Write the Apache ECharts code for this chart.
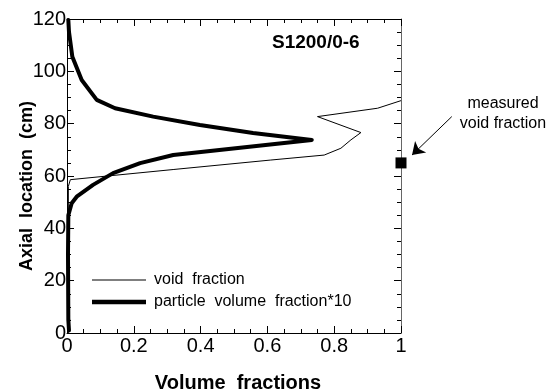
<!DOCTYPE html>
<html>
<head>
<meta charset="utf-8">
<script src="https://cdn.jsdelivr.net/npm/echarts@6/dist/echarts.min.js"></script>
<style>
  html, body { margin: 0; padding: 0; background: #fff; }
  #chart { width: 555px; height: 391px; }
</style>
</head>
<body>
<div id="chart"></div>
<script>
// Axial profile of void fraction and particle volume fraction (x10), run S1200/0-6
const voidFractionX = [0.004, 0.004, 0.010, 0.32, 0.61, 0.77, 0.82, 0.85, 0.88, 0.75, 0.93, 1.0];
const voidFractionY = [0, 56, 58.6, 62.5, 66.1, 68.0, 70.6, 73.8, 76.6, 82.7, 85.9, 88.8];

const particleX = [0.004, 0.006, 0.016, 0.044, 0.089, 0.144, 0.258, 0.398, 0.557, 0.733,
                   0.318, 0.219, 0.138, 0.078, 0.029, 0.014, 0.004, 0.003, 0.004, 0.006];
const particleY = [119.6, 115, 105.6, 96.7, 89.1, 85.9, 82.7, 79.5, 76.4, 73.8,
                   68.0, 64.9, 61.1, 56.6, 52.1, 49.6, 45, 30, 5, 1];

const measuredVoid = [[1.0, 65]];
// arrow from the note to the measured point, in data units
const arrowFrom = [1.152, 82.7];
const arrowTo = [1.033, 68.0];

const xTicks = { min: 0, max: 1, interval: 0.2 };
const yTicks = { min: 0, max: 120, interval: 20 };

const seriesLabels = ['void  fraction', 'particle  volume  fraction*10'];

const zip = (xs, ys) => xs.map((x, i) => [x, ys[i]]);

const chart = echarts.init(document.getElementById('chart'), null, { renderer: 'canvas' });

const tickFont = { fontFamily: 'Liberation Sans, Arial, sans-serif', fontSize: 20, color: '#000' };

function axisCommon(showLabel, lineColor) {
  return {
    type: 'value',
    axisLine: { show: true, onZero: false, lineStyle: { color: lineColor, width: 1 } },
    axisTick: { show: true, inside: true, length: 7, lineStyle: { color: '#000', width: 1 } },
    minorTick: { show: true, splitNumber: 4, length: 4, lineStyle: { color: '#000', width: 1 } },
    splitLine: { show: false },
    minorSplitLine: { show: false },
    axisLabel: Object.assign({ show: showLabel }, tickFont)
  };
}

const option = {
  animation: false,
  backgroundColor: '#fff',
  grid: { left: 67, right: 154, top: 19, bottom: 58 },
  xAxis: [
    Object.assign(axisCommon(true, '#000'), xTicks, { position: 'bottom',
      axisLabel: Object.assign({ show: true, margin: 3 }, tickFont) }),
    Object.assign(axisCommon(false, '#000'), xTicks, { position: 'top' })
  ],
  yAxis: [
    Object.assign(axisCommon(true, '#000'), yTicks, { position: 'left',
      axisLabel: Object.assign({ show: true, margin: 1 }, tickFont) }),
    Object.assign(axisCommon(false, '#666'), yTicks, { position: 'right' })
  ],
  legend: {
    orient: 'vertical',
    left: 92,
    top: 272,
    padding: 0,
    itemWidth: 54,
    itemHeight: 14,
    itemGap: 6,
    symbolKeepAspect: true,
    itemStyle: { borderWidth: 0 },
    textStyle: { fontFamily: 'Liberation Sans, Arial, sans-serif', fontSize: 16, color: '#000', padding: [0, 0, 0, 3] },
    data: [
      { name: seriesLabels[0], icon: 'path://M0,0h54v1h-54z' },
      { name: seriesLabels[1], icon: 'path://M0,0h54v4.5h-54z' }
    ]
  },
  series: [
    {
      name: seriesLabels[0],
      type: 'line',
      data: zip(voidFractionX, voidFractionY),
      showSymbol: false,
      symbol: 'none',
      lineStyle: { color: '#000', width: 1 },
      itemStyle: { color: '#000' },
      clip: false,
      z: 3
    },
    {
      name: seriesLabels[1],
      type: 'line',
      data: zip(particleX, particleY),
      showSymbol: false,
      symbol: 'none',
      lineStyle: { color: '#000', width: 4, join: 'round', cap: 'round' },
      itemStyle: { color: '#000' },
      clip: false,
      z: 4
    },
    {
      name: 'measured',
      type: 'scatter',
      data: measuredVoid,
      symbol: 'rect',
      symbolSize: 11,
      itemStyle: { color: '#000', opacity: 1 },
      clip: false,
      z: 5
    },
    {
      name: 'arrow',
      type: 'lines',
      coordinateSystem: 'cartesian2d',
      clip: false,
      symbol: ['none', 'arrow'],
      symbolSize: [0, 12],
      silent: true,
      lineStyle: { color: '#000', width: 1, opacity: 1, curveness: 0 },
      effect: { show: false },
      data: [{ coords: [arrowFrom, arrowTo] }],
      z: 5
    }
  ],
  graphic: [
    {
      type: 'text', left: 272, top: 33,
      style: { text: 'S1200/0-6', font: 'bold 19px "Liberation Sans", Arial, sans-serif', fill: '#000' }
    },
    {
      type: 'text', x: 503, y: 104,
      style: { text: 'measured', font: '16px "Liberation Sans", Arial, sans-serif', fill: '#000',
               align: 'center', verticalAlign: 'middle' }
    },
    {
      type: 'text', x: 503, y: 124,
      style: { text: 'void fraction', font: '16px "Liberation Sans", Arial, sans-serif', fill: '#000',
               align: 'center', verticalAlign: 'middle' }
    },
    {
      type: 'text', x: 238, y: 383,
      style: { text: 'Volume  fractions', font: 'bold 20px "Liberation Sans", Arial, sans-serif', fill: '#000',
               align: 'center', verticalAlign: 'middle' }
    },
    {
      type: 'text', x: 27, y: 186, rotation: Math.PI / 2,
      style: { text: 'Axial  location  (cm)', font: 'bold 18px "Liberation Sans", Arial, sans-serif', fill: '#000',
               align: 'center', verticalAlign: 'middle' }
    }
  ]
};

chart.setOption(option);
</script>
</body>
</html>
